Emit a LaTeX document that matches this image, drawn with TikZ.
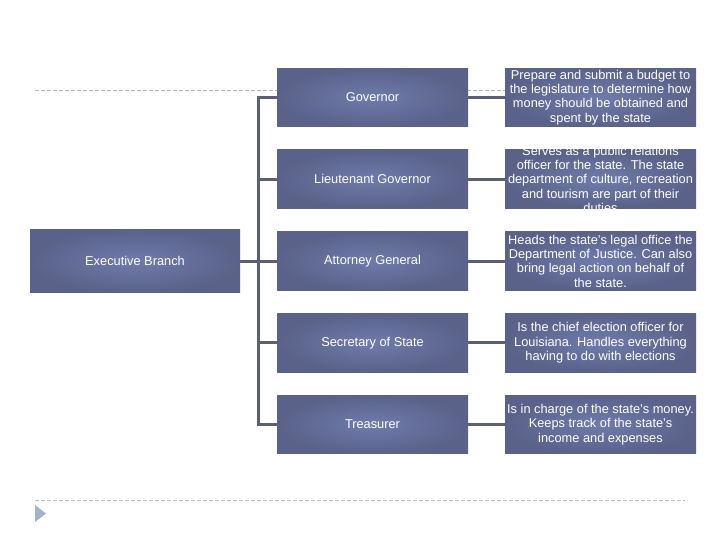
\documentclass[tikz,border=0pt]{standalone}
\usepackage{fontspec}
\setmainfont{Liberation Sans}
\usetikzlibrary{positioning}
\definecolor{boxlight}{HTML}{6F7BAB}
\definecolor{boxdark}{HTML}{5A6289}
\definecolor{linkgray}{HTML}{5B6078}
\definecolor{rulegray}{HTML}{B4BCCB}
\definecolor{markblue}{HTML}{A3B3C9}
\tikzset{%
	every office/.style={
		rectangle,
		inner color=boxlight,
		outer color=boxdark,
		text=white,
		minimum width=191pt,
		minimum height=58.5pt,
		inner sep=0pt,
		align=center,
		font=\fontsize{12.8}{14.3}\selectfont
	},
	office text/.style={
		text=white,
		inner sep=0pt,
		align=center,
		font=\fontsize{12.8}{14.3}\selectfont
	},
	link/.style={draw=linkgray, line width=3pt},
	rule/.style={draw=rulegray, line width=0.8pt, dash pattern=on 4pt off 2pt},
}

\begin{document}
\begin{tikzpicture}[x=1pt, y=-1pt]
	\useasboundingbox[fill=white] (0,0) rectangle (720,540);
	% dashed rules and slide marker
	\draw[rule] (35,90.5) -- (685,90.5);
	\draw[rule] (35,500) -- (685,500);
	\fill[markblue] (35,505) -- (46,513.5) -- (35,522) -- cycle;

	\node[every office, minimum width=210pt, minimum height=63.5pt] (exec) at (135,261) {Executive Branch};

	\node[every office] (gov) at (372.5,97.5) {Governor};
	\node[every office] (ltgov) at (372.5,179.25) {Lieutenant Governor};
	\node[every office] (ag) at (372.5,261) {Attorney General};
	\node[every office] (sos) at (372.5,342.75) {Secretary of State};
	\node[every office] (trea) at (372.5,424.5) {Treasurer};

	\node[every office] (gov-job) at (600.5,97.5) {Prepare and submit a budget to\\the legislature to determine how\\money should be obtained and\\spent by the state};
	\node[every office] (ltgov-job) at (600.5,179.25) {};
	\node[office text] at (ltgov-job) {Serves as a public relations\\officer for the state. The state\\department of culture, recreation\\and tourism are part of their\\duties};
	\node[every office] (ag-job) at (600.5,261) {Heads the state's legal office the\\Department of Justice. Can also\\bring legal action on behalf of\\the state.};
	\node[every office] (sos-job) at (600.5,342.75) {Is the chief election officer for\\Louisiana. Handles everything\\having to do with elections};
	\node[every office] (trea-job) at (600.5,424.5) {Is in charge of the state's money.\\Keeps track of the state's\\income and expenses};

	% connectors
	\coordinate (trunk) at (258.5,261);
	\draw[link] (exec.east) -- (exec.east -| trunk);
	\draw[link, line cap=rect] (gov.west -| trunk) -- (trea.west -| trunk);
	\foreach \n in {gov,ltgov,ag,sos,trea} {
		\draw[link] (\n.west -| trunk) -- (\n.west);
		\draw[link] (\n.east) -- (\n-job.west);
	}
\end{tikzpicture}
\end{document}
